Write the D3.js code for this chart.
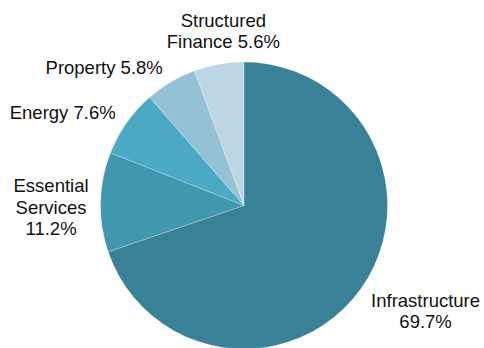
<!DOCTYPE html>
<html>
<head>
<meta charset="utf-8">
<script src="https://d3js.org/d3.v7.min.js"></script>
<style>
  html, body { margin: 0; padding: 0; background: #fff; }
  svg { display: block; }
  .lbl { font-family: "Liberation Sans", Arial, sans-serif; font-size: 18.5px; fill: #111; }
</style>
</head>
<body>
<div id="chart"></div>
<script>
// Sector split, clockwise from 12 o'clock
var sectors = ["Infrastructure", "Essential Services", "Energy", "Property", "Structured Finance"];
var shares = [69.7, 11.2, 7.6, 5.8, 5.6];
// label lines as shown in the picture
var labelLines = [
  ["Infrastructure", "69.7%"],
  ["Essential", "Services", "11.2%"],
  ["Energy 7.6%"],
  ["Property 5.8%"],
  ["Structured", "Finance 5.6%"]
];

var colors = ["#388196", "#4097b0", "#4aaac4", "#93c2d4", "#bcd7e3"];
// nudges from the label arc centroid to the first baseline
var labelNudge = [[23, -12], [2, -8.5], [-22, 25.5], [-40.5, 36.5], [13.5, 13]];

var w = 484, h = 348;
var cx = 244, cy = 205.5, radius = 143.5;
var lineH = 21.3;

var svg = d3.select("#chart")
  .append("svg")
  .attr("width", w)
  .attr("height", h);

var data = sectors.map(function(s, i) { return { key: s, value: shares[i], i: i }; });

var pie = d3.pie()
  .sort(null)
  .value(function(d) { return d.value; });

var arc = d3.arc().innerRadius(0).outerRadius(radius);
var labelArc = d3.arc().innerRadius(195).outerRadius(195);

var g = svg.append("g")
  .attr("transform", "translate(" + cx + "," + cy + ")");

g.selectAll("path")
  .data(pie(data))
  .enter()
  .append("path")
  .attr("d", arc)
  .attr("fill", function(d) { return colors[d.data.i]; })
  .attr("stroke", "#ffffff")
  .attr("stroke-width", 0.6)
  .attr("stroke-opacity", 0.4);

// labels
var labels = g.selectAll("text.lbl")
  .data(pie(data))
  .enter()
  .append("text")
  .attr("class", "lbl")
  .attr("text-anchor", "middle")
  .attr("transform", function(d) {
    var c = labelArc.centroid(d);
    var n = labelNudge[d.data.i];
    return "translate(" + (c[0] + n[0]) + "," + (c[1] + n[1]) + ")";
  });

labels.selectAll("tspan")
  .data(function(d) { return labelLines[d.data.i]; })
  .enter()
  .append("tspan")
  .attr("x", 0)
  .attr("y", function(d, i) { return i * lineH; })
  .text(function(d) { return d; });
</script>
</body>
</html>
